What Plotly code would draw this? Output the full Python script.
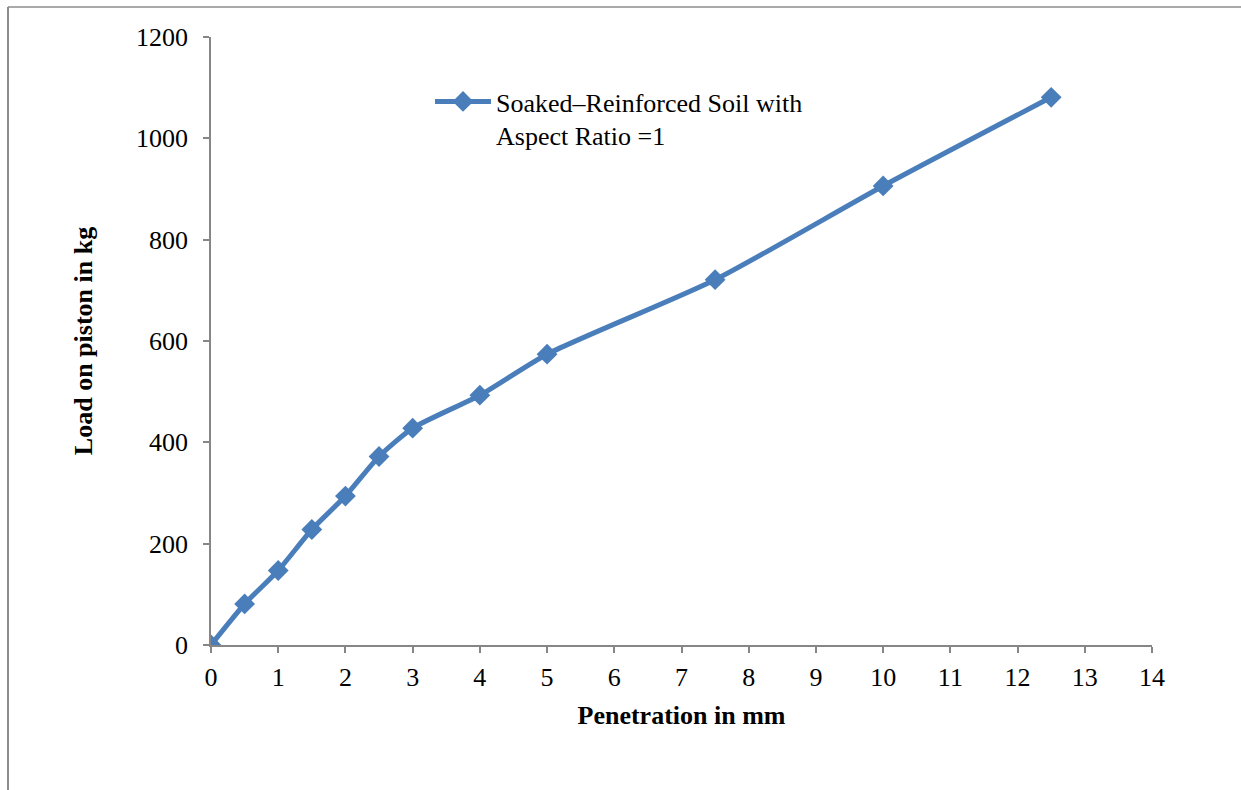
import plotly.graph_objects as go

# Penetration (mm) vs load on piston (kg)
penetration_mm = [0, 0.5, 1, 1.5, 2, 2.5, 3, 4, 5, 7.5, 10, 12.5]
load_kg = [0, 81, 147, 228, 294, 372, 428, 493, 574, 721, 906, 1081]

x_ticks = list(range(0, 15))
y_ticks = [0, 200, 400, 600, 800, 1000, 1200]

W, H = 1241, 790
L, R, T, B = 211, 89, 37, 145
pw, ph = W - L - R, H - T - B

line_color = "#4a7ebb"
axis_color = "#868686"
font_family = "Liberation Serif, Times New Roman, serif"
FS = 26

fig = go.Figure()
fig.add_trace(go.Scatter(
    x=penetration_mm, y=load_kg,
    mode="lines+markers",
    name="Soaked\u2013Reinforced Soil with<br>Aspect Ratio =1",
    line=dict(color=line_color, width=5, shape="spline", smoothing=0.6),
    marker=dict(symbol="diamond", size=16, color=line_color),
))

def px_x(p):
    return (p - L) / pw

def px_y(p):
    return (H - B - p) / ph

# outer chart frame (top and left edges visible)
fig.add_shape(type="line", xref="paper", yref="paper",
              x0=px_x(8), x1=px_x(W + 5), y0=px_y(7), y1=px_y(7),
              line=dict(color="#8c8c8c", width=1.5))
fig.add_shape(type="line", xref="paper", yref="paper",
              x0=px_x(8), x1=px_x(8), y0=px_y(7), y1=px_y(H + 5),
              line=dict(color="#8c8c8c", width=2))

axis_common = dict(
    showgrid=False, zeroline=False, showline=True,
    linecolor=axis_color, linewidth=1.5,
    ticks="outside", ticklen=6, tickwidth=1.5, tickcolor=axis_color,
    tickfont=dict(family=font_family, size=FS, color="black"),
)

fig.update_layout(
    width=W, height=H,
    margin=dict(l=L, r=R, t=T, b=B),
    paper_bgcolor="white", plot_bgcolor="white",
    font=dict(family=font_family, color="black"),
    xaxis=dict(range=[0, 14], tickvals=x_ticks, **axis_common,
               ticklabelstandoff=2,
               title=dict(text="<b>Penetration in mm</b>",
                          font=dict(family=font_family, size=FS), standoff=15)),
    yaxis=dict(range=[0, 1200], tickvals=y_ticks, **axis_common,
               ticklabelstandoff=10,
               title=dict(text="<b>Load on piston in kg</b>",
                          font=dict(family=font_family, size=FS), standoff=36)),
    showlegend=True,
    legend=dict(x=px_x(430), y=px_y(78), xanchor="left", yanchor="top",
                valign="top", bgcolor="rgba(0,0,0,0)", itemwidth=56,
                font=dict(family=font_family, size=FS, color="black")),
)

fig.write_html("out.html")
